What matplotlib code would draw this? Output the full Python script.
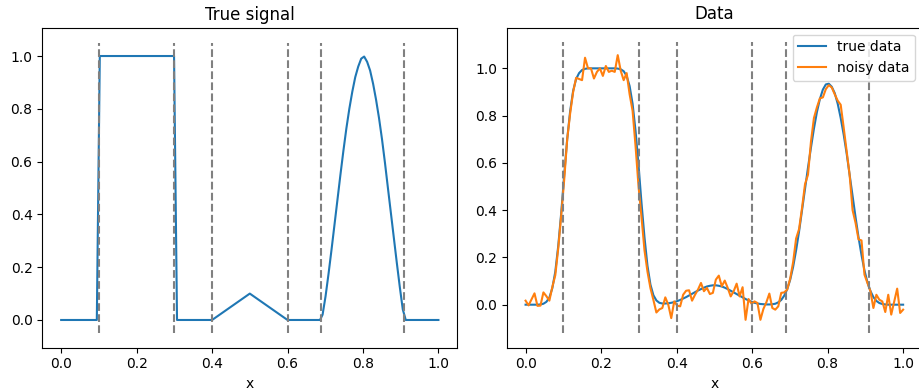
import numpy as np
import matplotlib
matplotlib.use("Agg")
import matplotlib.pyplot as plt

# ---- data ----
breakpoints = [0.1, 0.3, 0.4, 0.6, 0.69, 0.91]

# true signal (left panel), vertices
signal_x = [0.0, 0.0945, 0.1024, 0.2992, 0.3071, 0.4, 0.5, 0.6, 0.686,
            0.6929, 0.7008, 0.7087, 0.7165, 0.7244, 0.7323, 0.7402, 0.7480,
            0.7559, 0.7638, 0.7717, 0.7795, 0.7874, 0.7953, 0.8031, 0.8110,
            0.8189, 0.8268, 0.8346, 0.8425, 0.8504, 0.8583, 0.8661, 0.8740,
            0.8819, 0.8898, 0.8976, 0.9055, 0.9134, 1.0]
signal_y = [0.0, 0.0, 1.0, 1.0, 0.0, 0.0, 0.1, 0.0, 0.0,
            0.02, 0.09, 0.175, 0.265, 0.36, 0.455, 0.55, 0.64,
            0.725, 0.80, 0.865, 0.92, 0.96, 0.99, 0.998, 0.978,
            0.945, 0.895, 0.835, 0.765, 0.685, 0.595, 0.50, 0.405,
            0.31, 0.215, 0.125, 0.04, 0.0, 0.0]

n_samples = 128
true_data = [
    0.000, 0.000, 0.000, 0.000, 0.000, 0.001, 0.004, 0.012, 0.030, 0.070,
    0.140, 0.250, 0.390, 0.550, 0.700, 0.820, 0.905, 0.955, 0.980, 0.993,
    0.998, 1.000, 1.000, 1.000, 1.000, 1.000, 1.000, 1.000, 1.000, 1.000,
    1.000, 0.999, 0.996, 0.988, 0.968, 0.925, 0.850, 0.735, 0.590, 0.430,
    0.285, 0.165, 0.085, 0.040, 0.018, 0.008, 0.005, 0.005, 0.006, 0.008,
    0.011, 0.015, 0.020, 0.026, 0.032, 0.039, 0.046, 0.053, 0.060, 0.066,
    0.072, 0.077, 0.080, 0.082, 0.082, 0.080, 0.077, 0.072, 0.066, 0.059,
    0.052, 0.045, 0.038, 0.031, 0.024, 0.018, 0.013, 0.008, 0.005, 0.003,
    0.002, 0.001, 0.001, 0.002, 0.004, 0.010, 0.020, 0.038, 0.065, 0.105,
    0.160, 0.230, 0.310, 0.400, 0.490, 0.580, 0.665, 0.745, 0.815, 0.870,
    0.910, 0.932, 0.935, 0.922, 0.895, 0.850, 0.790, 0.720, 0.640, 0.550,
    0.460, 0.370, 0.285, 0.210, 0.145, 0.095, 0.058, 0.032, 0.016, 0.007,
    0.003, 0.001, 0.000, 0.000, 0.000, 0.000, 0.000, 0.000]

noisy_data = [
    0.017, -0.003, 0.022, 0.048, -0.005, -0.004, 0.052, 0.036, 0.017, 0.075,
    0.125, 0.24, 0.38, 0.53, 0.70, 0.81, 0.90, 0.96, 0.955, 0.95,
    1.045, 1.0, 1.0, 0.957, 0.985, 1.0, 0.968, 1.01, 0.985, 0.99,
    0.985, 1.056, 0.99, 0.95, 0.98, 0.89, 0.82, 0.67, 0.50, 0.37,
    0.23, 0.14, 0.07, 0.02, -0.033, -0.02, -0.014, 0.031, 0.0, -0.057,
    0.014, -0.004, -0.007, 0.042, 0.059, 0.061, 0.017, 0.042, 0.064, 0.092,
    0.057, 0.071, 0.045, 0.05, 0.106, 0.123, 0.078, 0.102, 0.071, 0.035,
    0.057, 0.089, 0.035, 0.074, -0.064, 0.024, 0.004, 0.014, 0.007, -0.064,
    -0.018, 0.01, 0.047, -0.014, -0.021, -0.007, 0.05, 0.052, 0.064, 0.11,
    0.18, 0.28, 0.32, 0.41, 0.51, 0.55, 0.69, 0.79, 0.835, 0.873,
    0.877, 0.912, 0.929, 0.919, 0.89, 0.863, 0.846, 0.75, 0.65, 0.55,
    0.40, 0.346, 0.276, 0.272, 0.127, 0.092, 0.057, -0.014, 0.042, 0.021,
    0.014, -0.031, 0.042, -0.042, 0.012, 0.068, -0.035, -0.021]

x_samples = np.linspace(0.0, 1.0, n_samples)

# ---- figure ----
W, H = 919, 392
fig = plt.figure(figsize=(W / 100, H / 100), dpi=100)

def px_axes(l, t, r, b):
    return fig.add_axes([l / W, 1 - b / H, (r - l) / W, (b - t) / H])

ax1 = px_axes(42.3, 28.3, 457.3, 347.7)
ax2 = px_axes(506.7, 27.7, 922.0, 347.7)

ax1.plot(signal_x, signal_y, color="#1f77b4", lw=1.5)
ax1.vlines(breakpoints, -0.05, 1.05, colors="gray", linestyles="--", lw=1.5)
ax1.set_xlim(-0.05, 1.05)
ax1.set_ylim(-0.105, 1.105)
ax1.set_title("True signal", fontsize=12)
ax1.set_xlabel("x")

ax2.plot(x_samples, true_data, color="#1f77b4", lw=1.5, label="true data")
ax2.plot(x_samples, noisy_data, color="#ff7f0e", lw=1.5, label="noisy data")
ax2.vlines(breakpoints, -0.12, 1.11, colors="gray", linestyles="--", lw=1.5)
ax2.set_xlim(-0.05, 1.05)
ax2.set_ylim(-0.182, 1.172)
ax2.set_title("Data", fontsize=12)
ax2.set_xlabel("x")
ax2.legend(loc="upper right")

for ax in (ax1, ax2):
    ax.set_xticks([0.0, 0.2, 0.4, 0.6, 0.8, 1.0])
    ax.set_yticks([0.0, 0.2, 0.4, 0.6, 0.8, 1.0])

fig.savefig("out.png", dpi=100)
